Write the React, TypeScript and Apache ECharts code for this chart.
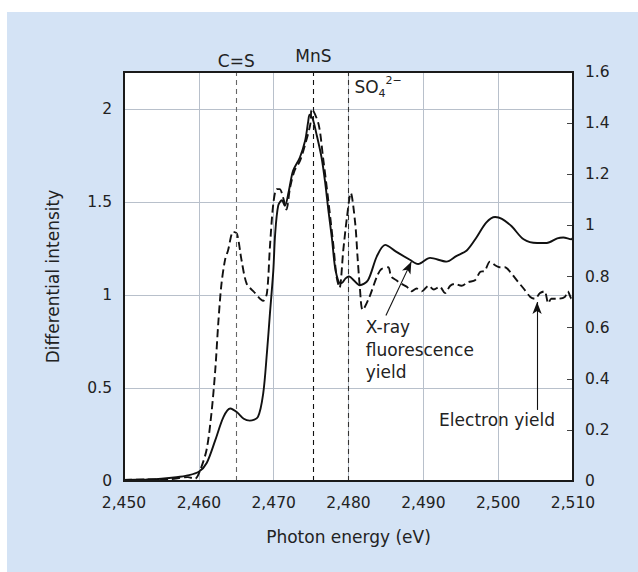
import React, { useEffect, useRef } from "react";
import * as echarts from "echarts";

// ---- Data ----
const xTickValues = [2450, 2460, 2470, 2480, 2490, 2500, 2510];
const leftTickValues = [0, 0.5, 1, 1.5, 2];
const rightTickValues = [0, 0.2, 0.4, 0.6, 0.8, 1, 1.2, 1.4, 1.6];

// X-ray fluorescence yield (solid, left axis)
const xrfEnergy = [
  2450, 2453, 2455, 2457, 2458.5, 2460, 2461.05, 2462.2, 2463.3, 2464.2, 2465.1, 2466.0, 2466.8,
  2467.9, 2468.6, 2469.1, 2469.5, 2469.95, 2470.2, 2470.6, 2471.1, 2471.5, 2472.0, 2472.6, 2473.5,
  2474.2, 2474.6, 2474.8, 2475.2, 2475.7, 2476.4, 2476.9, 2477.3, 2477.8, 2478.2, 2478.7, 2479.1,
  2479.6, 2480.1, 2480.7, 2481.5, 2482.6, 2483.8, 2484.9, 2486.3, 2488.2, 2489.3, 2490.9, 2493.1,
  2494.4, 2495.8, 2497.1, 2498.4, 2499.6, 2500.5, 2501.8, 2503.4, 2505.2, 2506.5, 2507.9, 2508.7,
  2509.8, 2510,
];
const xrfValue = [
  0.005, 0.008, 0.012, 0.02, 0.03, 0.05, 0.097, 0.22, 0.345, 0.39, 0.37, 0.335, 0.325,
  0.345, 0.47, 0.69, 0.9, 1.13, 1.33, 1.48, 1.51, 1.48, 1.555, 1.67, 1.74,
  1.83, 1.93, 1.97, 1.95, 1.87, 1.74, 1.6, 1.46, 1.3, 1.15, 1.07, 1.065,
  1.09, 1.1, 1.08, 1.053, 1.08, 1.21, 1.27, 1.235, 1.19, 1.167, 1.2, 1.18,
  1.21, 1.24, 1.31, 1.39, 1.42, 1.41, 1.37, 1.3, 1.28, 1.28, 1.305, 1.31,
  1.3, 1.31,
];

// Electron yield (dashed, right axis)
const eyEnergy = [
  2450, 2453, 2456, 2458.5, 2459.5, 2460.2, 2461.05, 2461.7, 2462.2, 2462.6, 2463.0, 2463.5,
  2463.9, 2464.6, 2465.1, 2465.7, 2466.4, 2467.3, 2468.6, 2469.1, 2469.5, 2469.95, 2470.4, 2470.8,
  2471.3, 2471.7, 2472.2, 2472.8, 2473.5, 2474.2, 2474.9, 2475.1, 2476.0, 2476.6, 2477.3, 2478.0,
  2478.4, 2478.8, 2479.3, 2479.8, 2480.3, 2480.9, 2481.2, 2481.5, 2481.9, 2482.8, 2483.8, 2484.4,
  2485.3, 2485.7, 2486.4, 2487.1, 2487.8, 2488.4, 2489.1, 2489.8, 2490.7, 2491.4, 2492.2, 2492.9,
  2493.6, 2494.2, 2495.1, 2496.0, 2496.9, 2497.6, 2498.2, 2498.9, 2499.6, 2500.2, 2500.9, 2501.6,
  2502.5, 2503.4, 2504.3, 2504.9, 2505.6, 2506.2, 2506.7, 2507.1, 2508.0, 2508.9, 2509.3, 2509.8,
  2510,
];
const eyValue = [
  0.004, 0.006, 0.007, 0.015, 0.009, 0.044, 0.124, 0.269, 0.436, 0.618, 0.764, 0.865,
  0.902, 0.975, 0.967, 0.865, 0.771, 0.742, 0.705, 0.735, 0.916, 1.084, 1.142, 1.142,
  1.105, 1.062, 1.149, 1.215, 1.251, 1.316, 1.396, 1.455, 1.396, 1.265, 1.098, 0.916,
  0.8, 0.756, 0.902, 1.033, 1.127, 1.007, 0.88, 0.764, 0.669, 0.72, 0.8, 0.829,
  0.836, 0.8, 0.785, 0.771, 0.76, 0.742, 0.753, 0.742, 0.764, 0.749, 0.76, 0.735,
  0.764, 0.771, 0.764, 0.778, 0.785, 0.818, 0.822, 0.858, 0.844, 0.836, 0.836, 0.818,
  0.785, 0.753, 0.72, 0.713, 0.735, 0.742, 0.695, 0.713, 0.713, 0.72, 0.742, 0.713,
  0.727,
];

// Reference lines
const refEnergies = [2465, 2475.3, 2480];
const refLabels = ["C=S", "MnS", ""];

const FONT = "DejaVu Sans";
const TXT = "#222";

export default function App() {
  const ref = useRef<HTMLDivElement>(null);

  useEffect(() => {
    if (!ref.current) return;
    const chart = echarts.init(ref.current, null, { renderer: "svg" });

    const xrfData = xrfEnergy.map((e, i) => [e, xrfValue[i]]);
    const eyData = eyEnergy.map((e, i) => [e, eyValue[i]]);
    const fmtComma = (v: number) => {
      const s = String(Math.round(v));
      return s.length > 3 ? s.slice(0, s.length - 3) + "," + s.slice(-3) : s;
    };

    const refLineColors = ["#666", "#111", "#333"];
    const refLabelDist = [3, 8, 0];

    const option: any = {
      animation: false,
      backgroundColor: "transparent",
      grid: {
        left: 124,
        top: 72,
        right: 65,
        bottom: 91,
        show: true,
        backgroundColor: "#ffffff",
        borderWidth: 0,
      },
      xAxis: {
        type: "value",
        min: xTickValues[0],
        max: xTickValues[xTickValues.length - 1],
        interval: 10,
        axisLine: { show: false },
        axisTick: { show: false },
        splitLine: { show: true, lineStyle: { color: "#b8c0cb", width: 1 } },
        axisLabel: {
          margin: 14,
          fontFamily: FONT,
          fontSize: 15.5,
          color: TXT,
          formatter: (v: number) => fmtComma(v),
        },
        name: "Photon energy (eV)",
        nameLocation: "middle",
        nameGap: 47,
        nameTextStyle: { fontFamily: FONT, fontSize: 17, color: TXT },
      },
      yAxis: [
        {
          type: "value",
          min: leftTickValues[0],
          max: 2.2,
          interval: 0.5,
          position: "left",
          axisLine: { show: false },
          axisTick: { show: false },
          splitLine: { show: true, lineStyle: { color: "#b8c0cb", width: 1 } },
          axisLabel: {
            margin: 12,
            fontFamily: FONT,
            fontSize: 15.5,
            color: TXT,
            showMaxLabel: false,
            formatter: (v: number) => (leftTickValues.includes(v) ? String(v) : ""),
          },
          name: "Differential intensity",
          nameLocation: "middle",
          nameGap: 63,
          nameRotate: 90,
          nameTextStyle: { fontFamily: FONT, fontSize: 17, color: TXT },
        },
        {
          type: "value",
          min: rightTickValues[0],
          max: rightTickValues[rightTickValues.length - 1],
          interval: 0.2,
          position: "right",
          axisLine: { show: false },
          axisTick: { show: true, inside: true, length: 6, lineStyle: { color: "#444", width: 1 } },
          splitLine: { show: false },
          axisLabel: {
            margin: 12,
            fontFamily: FONT,
            fontSize: 15.5,
            color: TXT,
            formatter: (v: number) => String(Math.round(v * 10) / 10),
          },
        },
      ],
      series: [
        {
          name: "X-ray fluorescence yield",
          type: "line",
          yAxisIndex: 0,
          data: xrfData,
          symbol: "none",
          smooth: 0.3,
          lineStyle: { color: "#111", width: 1.9, type: "solid" },
          z: 3,
          markLine: {
            silent: true,
            symbol: ["none", "none"],
            animation: false,
            data: [
              ...refEnergies.map((e, i) => ({
                xAxis: e,
                lineStyle: { color: refLineColors[i], type: [5, 4], width: 1.1 },
                label: {
                  show: refLabels[i] !== "",
                  formatter: refLabels[i],
                  position: "end",
                  distance: refLabelDist[i],
                  fontFamily: FONT,
                  fontSize: 17,
                  color: TXT,
                },
              })),
              [
                {
                  coord: [2485, 0.89],
                  symbol: "none",
                  lineStyle: { color: "#111", type: "solid", width: 1.1 },
                  label: { show: false },
                },
                {
                  coord: [2488.4, 1.18],
                  symbol: "arrow",
                  symbolSize: [7, 12],
                  lineStyle: { color: "#111", type: "solid", width: 1.1 },
                  label: { show: false },
                },
              ],
            ],
          },
        },
        {
          name: "Electron yield",
          type: "line",
          yAxisIndex: 1,
          data: eyData,
          symbol: "none",
          smooth: 0.3,
          lineStyle: { color: "#111", width: 1.9, type: [8, 4] },
          z: 3,
          markLine: {
            silent: true,
            animation: false,
            data: [
              [
                {
                  coord: [2505.2, 0.278],
                  symbol: "none",
                  lineStyle: { color: "#111", type: "solid", width: 1.1 },
                  label: { show: false },
                },
                {
                  coord: [2505.2, 0.7],
                  symbol: "arrow",
                  symbolSize: [7, 12],
                  lineStyle: { color: "#111", type: "solid", width: 1.1 },
                  label: { show: false },
                },
              ],
            ],
          },
        },
      ],
    };

    chart.setOption(option);

    const px = (x: number, y: number, s = 0) =>
      chart.convertToPixel({ seriesIndex: s }, [x, y]) as number[];

    const so4 = px(2480, 2.2);
    const xr = px(2482.3, 0.887);
    const el = px(2499.85, 0.328);
    const tl = px(2450, 2.2);
    const br = px(2510, 0);

    chart.setOption({
      graphic: [
        {
          type: "rect",
          z: 50,
          silent: true,
          shape: { x: tl[0], y: tl[1], width: br[0] - tl[0], height: br[1] - tl[1] },
          style: { fill: "none", stroke: "#1a1a1a", lineWidth: 2 },
        },
        {
          type: "text",
          z: 50,
          x: so4[0] + 6,
          y: so4[1] + 15,
          style: { text: "SO", fontFamily: FONT, fontSize: 17, fill: TXT, verticalAlign: "middle" },
        },
        {
          type: "text",
          z: 50,
          x: so4[0] + 30,
          y: so4[1] + 21,
          style: { text: "4", fontFamily: FONT, fontSize: 11, fill: TXT, verticalAlign: "middle" },
        },
        {
          type: "text",
          z: 50,
          x: so4[0] + 37,
          y: so4[1] + 8,
          style: { text: "2−", fontFamily: FONT, fontSize: 11, fill: TXT, verticalAlign: "middle" },
        },
        {
          type: "text",
          z: 50,
          x: xr[0],
          y: xr[1],
          style: {
            text: "X-ray\nfluorescence\nyield",
            fontFamily: FONT,
            fontSize: 17,
            lineHeight: 22.5,
            fill: TXT,
            align: "left",
            verticalAlign: "top",
          },
        },
        {
          type: "text",
          z: 50,
          x: el[0],
          y: el[1],
          style: {
            text: "Electron yield",
            fontFamily: FONT,
            fontSize: 17,
            fill: TXT,
            align: "center",
            verticalAlign: "middle",
          },
        },
      ],
    });

    return () => chart.dispose();
  }, []);

  return (
    <div style={{ position: "fixed", left: 0, top: 0, width: 638, height: 572, background: "#ffffff" }}>
      <div
        style={{ position: "absolute", left: 7, top: 12, width: 631, height: 560, background: "#d4e3f5" }}
      />
      <div ref={ref} style={{ position: "absolute", left: 0, top: 0, width: 638, height: 572 }} />
    </div>
  );
}
